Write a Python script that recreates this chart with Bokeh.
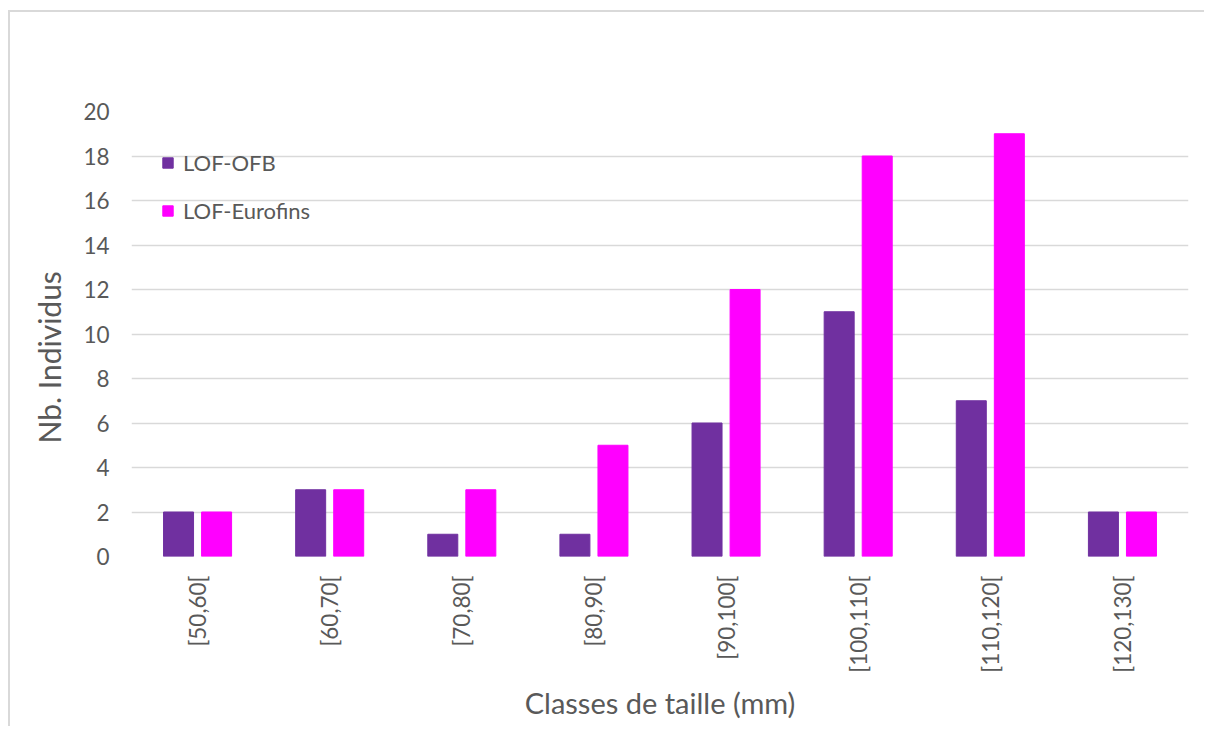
from bokeh.plotting import figure
from bokeh.models import ColumnDataSource, FactorRange, Range1d, FixedTicker, Title
from bokeh.transform import dodge
from bokeh.embed import file_html
from bokeh.resources import INLINE

categories = ["[50,60[", "[60,70[", "[70,80[", "[80,90[", "[90,100[", "[100,110[", "[110,120[", "[120,130["]
lof_ofb = [2, 3, 1, 1, 6, 11, 7, 2]
lof_eurofins = [2, 3, 3, 5, 12, 18, 19, 2]
y_ticks = [0, 2, 4, 6, 8, 10, 12, 14, 16, 18, 20]

source = ColumnDataSource(data=dict(cat=categories, ofb=lof_ofb, euro=lof_eurofins))

FONT = "Lato"
GRAY = "#595959"

p = figure(
    x_range=FactorRange(*categories, range_padding=0),
    y_range=Range1d(0, 20),
    width=1196, height=716,
    output_backend="svg", toolbar_location=None,
    min_border_left=121, min_border_top=99, min_border_right=18, min_border_bottom=172,
)
p.styles = {"border-top": "2px solid #D9D9D9", "border-left": "2px solid #D9D9D9",
            "margin-left": "8px", "margin-top": "10px"}
p.outline_line_color = None

p.vbar(x=dodge("cat", -0.144, range=p.x_range), top="ofb", width=0.227, source=source,
       fill_color="#7030A0", line_color="#7030A0", legend_label="LOF-OFB")
p.vbar(x=dodge("cat", 0.144, range=p.x_range), top="euro", width=0.227, source=source,
       fill_color="#FF00FF", line_color="#FF00FF", legend_label="LOF-Eurofins")

p.xgrid.grid_line_color = None
p.ygrid.grid_line_color = "#D9D9D9"
p.ygrid.grid_line_width = 1.5
p.yaxis.ticker = FixedTicker(ticks=y_ticks)

for ax in (p.xaxis[0], p.yaxis[0]):
    ax.axis_line_color = None
    ax.major_tick_line_color = None
    ax.minor_tick_line_color = None
    ax.major_tick_out = 0
    ax.major_tick_in = 0
    ax.major_label_text_font = FONT
    ax.major_label_text_color = GRAY
    ax.major_label_text_font_size = "22.5px"
    ax.axis_label_text_font = FONT
    ax.axis_label_text_color = GRAY
    ax.axis_label_text_font_style = "normal"

p.xaxis.major_label_orientation = 1.5707963
p.xaxis.major_label_standoff = 19
p.xaxis.axis_label = "Classes de taille (mm)"
p.xaxis.axis_label_text_font_size = "29px"
p.xaxis.axis_label_standoff = 9

p.yaxis.major_label_standoff = 22

ytitle = Title(text="Nb. Individus", align="left", offset=113, standoff=27,
               text_font=FONT, text_font_size="30px", text_color=GRAY,
               text_font_style="normal")
p.add_layout(ytitle, "left")

lg = p.legend[0]
lg.location = (30, 332)
lg.padding = 0
lg.margin = 0
lg.spacing = 21
lg.glyph_width = 13
lg.glyph_height = 13
lg.label_height = 13
lg.label_standoff = 9
lg.label_text_font = FONT
lg.label_text_color = GRAY
lg.label_text_font_size = "22px"
lg.border_line_color = None
lg.background_fill_alpha = 0

open("out.html", "w").write(file_html(p, INLINE))
